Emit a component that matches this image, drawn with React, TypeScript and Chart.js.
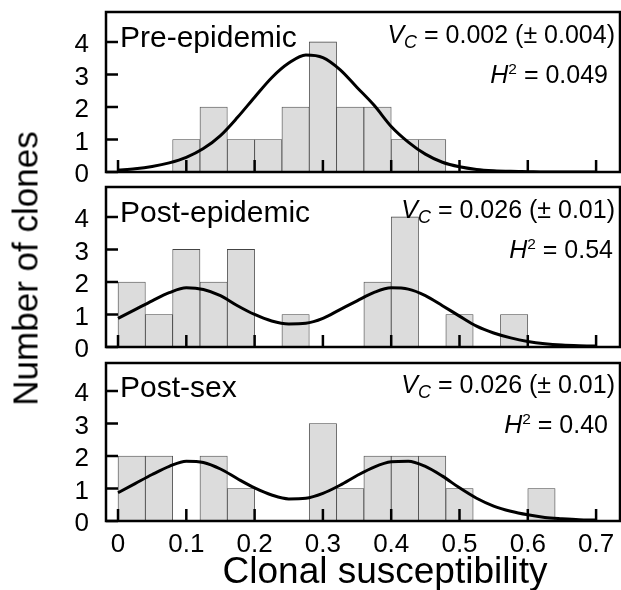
import React, { useEffect, useRef } from "react";
import { Chart, registerables } from "chart.js";
Chart.register(...registerables);

// ---------- data ----------
const binStarts = [0, 0.04, 0.08, 0.12, 0.16, 0.2, 0.24, 0.28, 0.32, 0.36, 0.4, 0.44, 0.48, 0.52, 0.56, 0.6, 0.64];
const binWidth = 0.04;
const preEpidemicCounts = [0, 0, 1, 2, 1, 1, 2, 4, 2, 2, 1, 1, 0, 0, 0, 0, 0];
const postEpidemicCounts = [2, 1, 3, 2, 3, 0, 1, 0, 0, 2, 4, 0, 1, 0, 1, 0, 0];
const postSexCounts = [2, 2, 0, 2, 1, 0, 0, 3, 1, 2, 2, 2, 1, 0, 0, 1, 0];

const curveX = [0, 0.025, 0.05, 0.075, 0.1, 0.125, 0.15, 0.175, 0.2, 0.225, 0.25, 0.275, 0.3, 0.325, 0.35, 0.375, 0.4, 0.425, 0.45, 0.475, 0.5, 0.525, 0.55, 0.575, 0.6, 0.625, 0.65, 0.675, 0.7];
const preEpidemicCurve = [0.06, 0.1, 0.17, 0.28, 0.45, 0.72, 1.12, 1.68, 2.3, 2.9, 3.35, 3.6, 3.52, 3.15, 2.6, 2.05, 1.4, 0.92, 0.55, 0.3, 0.16, 0.08, 0.04, 0.02, 0.01, 0, 0, 0, 0];
const postEpidemicCurve = [0.88, 1.15, 1.42, 1.67, 1.82, 1.77, 1.58, 1.27, 1.0, 0.8, 0.71, 0.73, 0.88, 1.15, 1.42, 1.68, 1.82, 1.78, 1.58, 1.27, 0.95, 0.64, 0.43, 0.28, 0.17, 0.1, 0.06, 0.04, 0.03];
const postSexCurve = [0.87, 1.15, 1.43, 1.68, 1.84, 1.8, 1.6, 1.3, 1.02, 0.8, 0.68, 0.7, 0.85, 1.1, 1.4, 1.66, 1.82, 1.84, 1.68, 1.38, 1.02, 0.7, 0.46, 0.3, 0.19, 0.11, 0.07, 0.04, 0.03];

const xTickValues = [0, 0.1, 0.2, 0.3, 0.4, 0.5, 0.6, 0.7];
const xTickLabels = ["0", "0.1", "0.2", "0.3", "0.4", "0.5", "0.6", "0.7"];
const yTickValues = [0, 1, 2, 3, 4];
const yTickLabels = ["0", "1", "2", "3", "4"];

const panelNames = ["Pre-epidemic", "Post-epidemic", "Post-sex"];
const vcValues = ["0.002 (\u00b1 0.004)", "0.026 (\u00b1 0.01)", "0.026 (\u00b1 0.01)"];
const h2Values = ["0.049", "0.54", "0.40"];
const xTitle = "Clonal susceptibility";
const yTitle = "Number of clones";

const countsList = [preEpidemicCounts, postEpidemicCounts, postSexCounts];
const curvesList = [preEpidemicCurve, postEpidemicCurve, postSexCurve];

// ---------- layout ----------
const FONT = '"Liberation Sans", Arial, Helvetica, sans-serif';
const X_MIN = -0.0176;
const X_MAX = 0.735;
const layout = [
  { canvasTop: 2, height: 186, padTop: 10, padBottom: 16, yMax: 4.92, shift: 0, h2Right: 13 },
  { canvasTop: 177, height: 186, padTop: 10, padBottom: 16, yMax: 4.92, shift: 175, h2Right: 8 },
  { canvasTop: 353, height: 237, padTop: 10, padBottom: 0, yMax: 4.86, shift: 350, h2Right: 13 },
];

const frameTicksPlugin = {
  id: "frameTicks",
  afterDatasetsDraw(chart: any) {
    const { ctx, chartArea: a, scales } = chart;
    const x = scales.x;
    const y = scales.y;
    ctx.save();
    ctx.strokeStyle = "#000";
    ctx.lineWidth = 2.5;
    ctx.beginPath();
    xTickValues.forEach((v) => {
      const px = x.getPixelForValue(v);
      ctx.moveTo(px, a.bottom);
      ctx.lineTo(px, a.bottom - 12);
    });
    yTickValues.forEach((v) => {
      const py = y.getPixelForValue(v);
      ctx.moveTo(a.left, py);
      ctx.lineTo(a.left + 12, py);
    });
    ctx.stroke();
    ctx.strokeRect(a.left, a.top, a.right - a.left, a.bottom - a.top);
    ctx.restore();
  },
};

function Panel({ idx }: { idx: number }) {
  const ref = useRef<HTMLCanvasElement | null>(null);
  const L = layout[idx];
  const isBottom = idx === 2;
  useEffect(() => {
    const canvas = ref.current!;
    const barData = binStarts.map((s, i) => ({ x: s + binWidth / 2, y: countsList[idx][i] }));
    const lineData = curveX.map((x, i) => ({ x, y: curvesList[idx][i] }));
    const chart = new Chart(canvas, {
      type: "bar",
      data: {
        datasets: [
          {
            type: "line",
            data: lineData,
            borderColor: "#000",
            borderWidth: 3,
            pointRadius: 0,
            tension: 0.4,
            cubicInterpolationMode: "monotone",
            fill: false,
            order: 0,
          } as any,
          {
            type: "bar",
            data: barData,
            backgroundColor: "#dcdcdc",
            borderColor: "#444",
            borderWidth: 0.8,
            borderSkipped: false,
            barPercentage: 1,
            categoryPercentage: 1,
            order: 1,
          } as any,
        ],
      },
      options: {
        animation: false,
        responsive: false,
        events: [],
        layout: { padding: { top: L.padTop, bottom: L.padBottom, left: 0, right: 1 } },
        plugins: { legend: { display: false }, tooltip: { enabled: false } },
        scales: {
          x: {
            type: "linear",
            min: X_MIN,
            max: X_MAX,
            offset: false,
            display: isBottom,
            grid: { display: false, drawTicks: false },
            border: { display: false },
            ticks: {
              font: { family: FONT, size: 26 },
              color: "#000",
              padding: 8,
              maxRotation: 0,
              autoSkip: false,
              callback: (v: any) => {
                const i = xTickValues.findIndex((t) => Math.abs(t - Number(v)) < 1e-9);
                return i >= 0 ? xTickLabels[i] : "";
              },
            },
            afterBuildTicks: (s: any) => {
              s.ticks = xTickValues.map((v) => ({ value: v }));
            },
            afterFit: (s: any) => {
              s.height = isBottom ? 69 : 0;
              s.paddingLeft = 0;
              s.paddingRight = 0;
            },
          },
          y: {
            type: "linear",
            min: 0,
            max: L.yMax,
            grid: { display: false, drawTicks: false },
            border: { display: false },
            ticks: {
              font: { family: FONT, size: 26 },
              color: "#000",
              padding: 17,
              labelOffset: 3,
              callback: (v: any) => {
                const i = yTickValues.indexOf(Number(v));
                return i >= 0 ? yTickLabels[i] : "";
              },
            },
            afterBuildTicks: (s: any) => {
              s.ticks = yTickValues.map((v) => ({ value: v }));
            },
            afterFit: (s: any) => {
              s.width = 106;
              s.paddingTop = 0;
              s.paddingBottom = 0;
            },
          },
        },
      } as any,
      plugins: [frameTicksPlugin],
    });
    return () => chart.destroy();
  }, []);
  return (
    <canvas
      ref={ref}
      width={621}
      height={L.height}
      style={{ position: "absolute", left: 0, top: L.canvasTop, width: 621, height: L.height }}
    />
  );
}

function Annotations({ idx }: { idx: number }) {
  const s = layout[idx].shift;
  const nameF = 30;
  const annF = 25;
  const base = { position: "absolute" as const, whiteSpace: "nowrap" as const, fontFamily: FONT, color: "#000" };
  return (
    <>
      <div style={{ ...base, left: 120, top: 47 + s - 0.847 * nameF, fontSize: nameF, lineHeight: `${nameF}px` }}>
        {panelNames[idx]}
      </div>
      <div style={{ ...base, right: 6, top: 43 + s - 0.847 * annF, fontSize: annF, lineHeight: `${annF}px` }}>
        <i>V</i>
        <span style={{ fontStyle: "italic", fontSize: "0.72em", position: "relative", top: "0.3em" }}>C</span>
        {" = " + vcValues[idx]}
      </div>
      <div style={{ ...base, right: layout[idx].h2Right, top: 83 + s - 0.847 * annF, fontSize: annF, lineHeight: `${annF}px` }}>
        <i>H</i>
        <span style={{ fontSize: "0.62em", position: "relative", top: "-0.55em" }}>2</span>
        {" = " + h2Values[idx]}
      </div>
    </>
  );
}

export default function App() {
  const xF = 37;
  const yF = 35;
  return (
    <div style={{ position: "absolute", left: 0, top: 0, width: 621, height: 590, overflow: "hidden", background: "#fff" }}>
      {[0, 1, 2].map((i) => (
        <Panel key={"p" + i} idx={i} />
      ))}
      {[0, 1, 2].map((i) => (
        <Annotations key={"a" + i} idx={i} />
      ))}
      <div
        style={{
          position: "absolute",
          left: 385 - 250,
          width: 500,
          textAlign: "center",
          top: 583 - 0.847 * xF,
          fontSize: xF,
          lineHeight: `${xF}px`,
          fontFamily: FONT,
          whiteSpace: "nowrap",
          color: "#000",
        }}
      >
        {xTitle}
      </div>
      <div
        style={{
          position: "absolute",
          left: 25 - 170,
          top: 268 - yF / 2,
          width: 340,
          height: yF,
          textAlign: "center",
          fontSize: yF,
          lineHeight: `${yF}px`,
          fontFamily: FONT,
          whiteSpace: "nowrap",
          color: "#000",
          transform: "rotate(-90deg)",
        }}
      >
        {yTitle}
      </div>
    </div>
  );
}
